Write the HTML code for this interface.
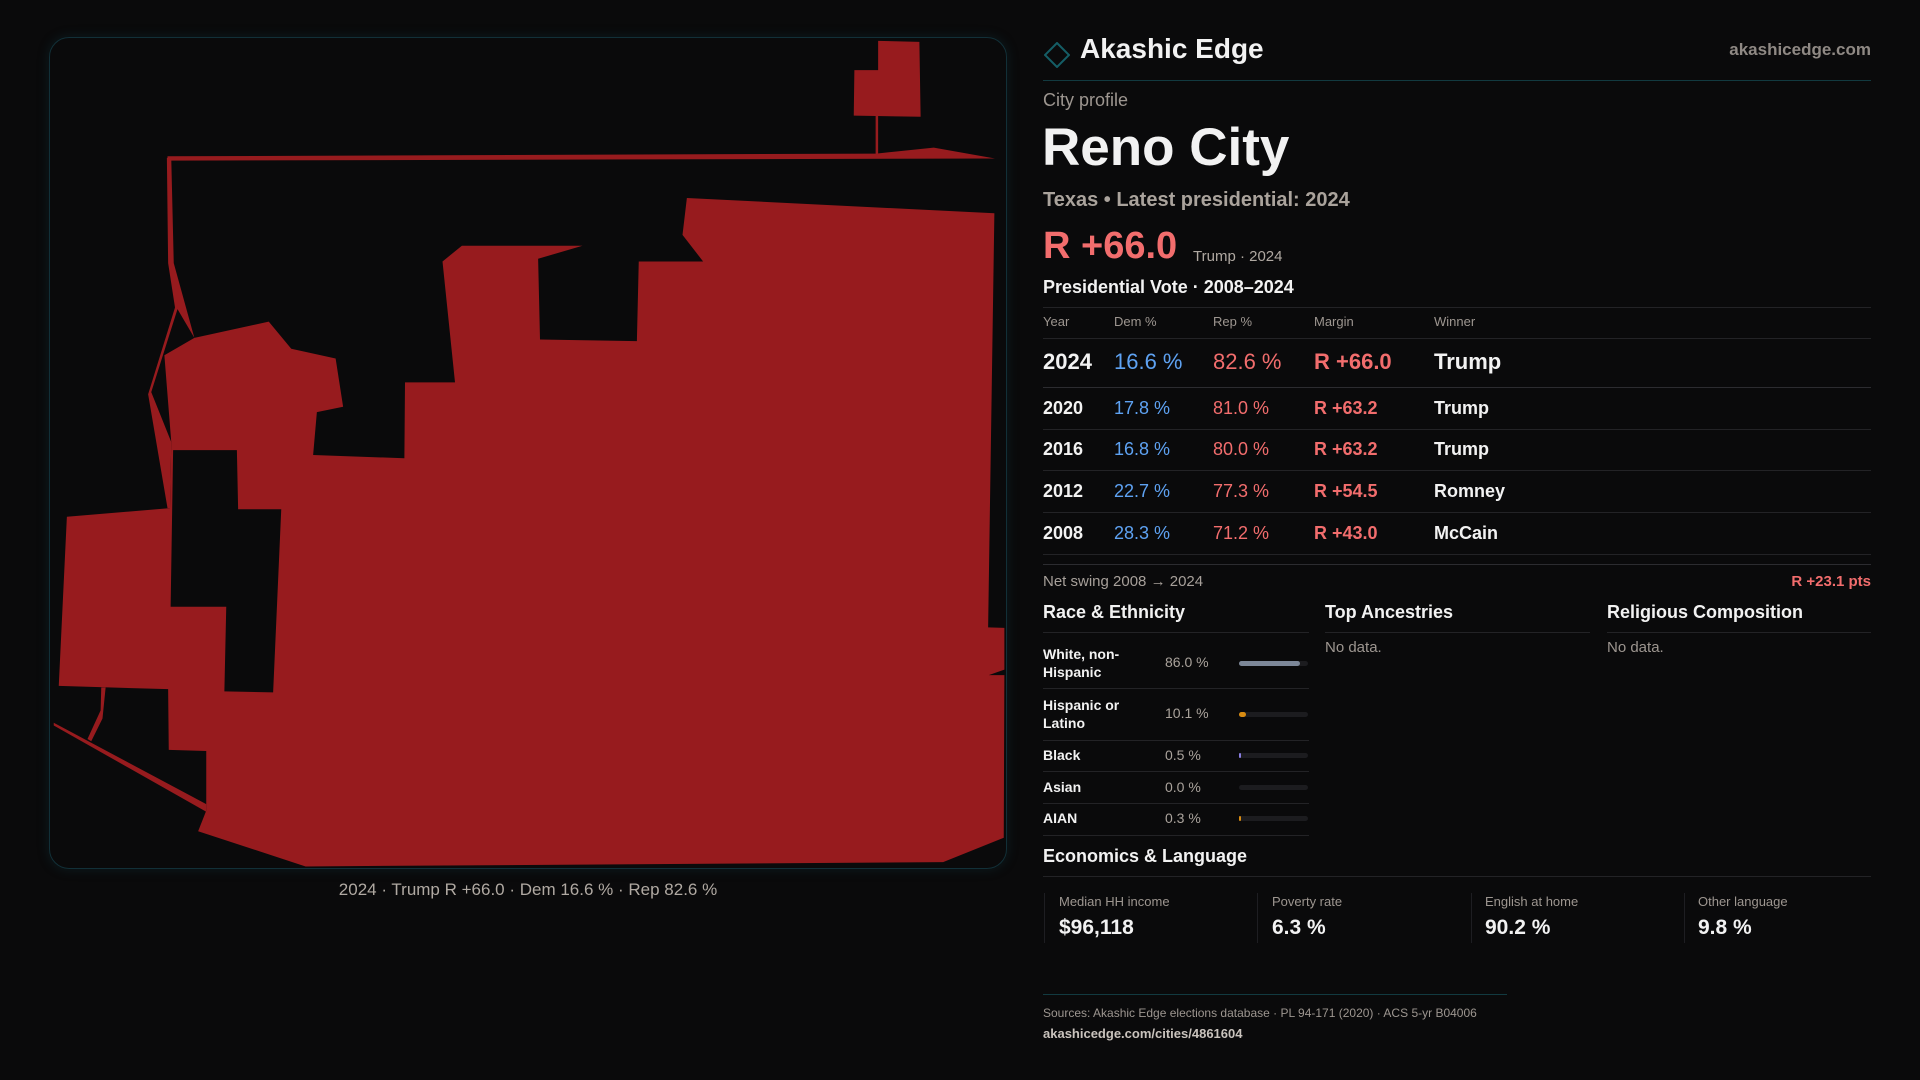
<!DOCTYPE html>
<html><head><meta charset="utf-8"><style>
*{margin:0;padding:0;box-sizing:border-box}
body{width:1920px;height:1080px;background:#0a0a0b;font-family:"Liberation Sans",sans-serif;color:#f2f2f2;position:relative;overflow:hidden}
.a{position:absolute;white-space:nowrap}
.g{color:#9d9690}
.r{color:#f26d6d}
.b{color:#5ea2f2}
.ln{position:absolute;height:1px;background:#232326}
.bar{position:absolute;left:1239px;width:69px;height:5px;border-radius:3px;background:#1c1c1f}
</style></head><body>
<div class="a" style="left:49px;top:37px;width:958px;height:832px;border:1px solid #123038;border-radius:20px;box-shadow:0 0 12px rgba(20,80,90,0.25)"></div>
<svg class="a" style="left:40px;top:30px" width="980" height="850" viewBox="0 0 1568 1568" preserveAspectRatio="none">
<g fill="#971b1e">
<polygon points="1035,310 1527,338 1517,1102 1543,1103 1543,1180 1518,1190 1543,1190 1542,1490 1445,1535 425,1543 253,1478 266,1440 266,1330 206,1328 205,1216 30,1210 43,898 208,882 210,760 199,600 247,568 366,538 402,588 473,606 485,695 443,705 437,784 583,790 584,650 664,650 644,427 675,398 868,398 797,422 800,571 955,574 958,427 1061,427 1028,378"/>
<polygon points="203,236 210,236 214,430 247,568 220,515 178,668 210,760 208,882 204,882 173,672 216,512 205,430"/>
<polygon points="204,233 1338,228 1430,217 1528,237 204,241"/>
<rect x="1337" y="158" width="4" height="72"/>
<polygon points="1341,20 1407,22 1409,160 1302,158 1303,74 1341,74"/>
<polygon points="22,1278 266,1428 266,1442 22,1283"/>
<polygon points="98,1213 105,1213 100,1270 82,1312 76,1308 97,1255"/>
</g>
<polygon fill="#0a0a0b" points="213,775 315,775 317,884 386,884 373,1222 295,1220 298,1064 209,1064"/>
</svg>
<div class="a g" style="left:0;width:1056px;text-align:center;top:880px;font-size:17px;color:#b0a9a2">2024 · Trump R +66.0 · Dem 16.6 % · Rep 82.6 %</div>

<svg class="a" style="left:1044px;top:42px" width="26" height="26"><polygon points="13,1 25,13 13,25 1,13" fill="none" stroke="#155e66" stroke-width="2"/></svg>
<div class="a" style="left:1080px;top:33px;font-size:28px;font-weight:bold">Akashic Edge</div>
<div class="a g" style="right:49px;top:40px;font-size:17px;font-weight:bold;color:#8f8984">akashicedge.com</div>
<div class="ln" style="left:1043px;width:828px;top:80px;background:#123a40"></div>
<div class="a g" style="left:1043px;top:90px;font-size:18px">City profile</div>
<div class="a" style="left:1042px;top:117px;font-size:53px;font-weight:bold">Reno City</div>
<div class="a" style="left:1043px;top:189px;font-size:20px;font-weight:bold;color:#aaa39c">Texas • Latest presidential: 2024</div>
<div class="a r" style="left:1043px;top:225px;font-size:38px;font-weight:bold">R +66.0</div>
<div class="a" style="left:1193px;top:248px;font-size:15px;color:#b0a9a2">Trump · 2024</div>
<div class="a" style="left:1043px;top:277px;font-size:18px;font-weight:bold">Presidential Vote · 2008–2024</div>
<div class="ln" style="left:1043px;width:828px;top:307px"></div>
<div class="a g" style="left:1043px;top:314px;font-size:13px">Year</div>
<div class="a g" style="left:1114px;top:314px;font-size:13px">Dem %</div>
<div class="a g" style="left:1213px;top:314px;font-size:13px">Rep %</div>
<div class="a g" style="left:1314px;top:314px;font-size:13px">Margin</div>
<div class="a g" style="left:1434px;top:314px;font-size:13px">Winner</div>
<div class="ln" style="left:1043px;width:828px;top:338px"></div>
<div class="a" style="left:1043px;top:349px;font-size:22px;font-weight:bold">2024</div>
<div class="a b" style="left:1114px;top:349px;font-size:22px">16.6 %</div>
<div class="a r" style="left:1213px;top:349px;font-size:22px">82.6 %</div>
<div class="a r" style="left:1314px;top:349px;font-size:22px;font-weight:bold">R +66.0</div>
<div class="a" style="left:1434px;top:349px;font-size:22px;font-weight:bold">Trump</div>
<div class="ln" style="left:1043px;width:828px;top:387px;background:#2c2c30"></div>
<div class="a" style="left:1043px;top:398px;font-size:18px;font-weight:bold">2020</div><div class="a b" style="left:1114px;top:398px;font-size:18px">17.8 %</div><div class="a r" style="left:1213px;top:398px;font-size:18px">81.0 %</div><div class="a r" style="left:1314px;top:398px;font-size:18px;font-weight:bold">R +63.2</div><div class="a" style="left:1434px;top:398px;font-size:18px;font-weight:bold">Trump</div>
<div class="ln" style="left:1043px;width:828px;top:429px"></div>
<div class="a" style="left:1043px;top:439px;font-size:18px;font-weight:bold">2016</div><div class="a b" style="left:1114px;top:439px;font-size:18px">16.8 %</div><div class="a r" style="left:1213px;top:439px;font-size:18px">80.0 %</div><div class="a r" style="left:1314px;top:439px;font-size:18px;font-weight:bold">R +63.2</div><div class="a" style="left:1434px;top:439px;font-size:18px;font-weight:bold">Trump</div>
<div class="ln" style="left:1043px;width:828px;top:470px"></div>
<div class="a" style="left:1043px;top:481px;font-size:18px;font-weight:bold">2012</div><div class="a b" style="left:1114px;top:481px;font-size:18px">22.7 %</div><div class="a r" style="left:1213px;top:481px;font-size:18px">77.3 %</div><div class="a r" style="left:1314px;top:481px;font-size:18px;font-weight:bold">R +54.5</div><div class="a" style="left:1434px;top:481px;font-size:18px;font-weight:bold">Romney</div>
<div class="ln" style="left:1043px;width:828px;top:512px"></div>
<div class="a" style="left:1043px;top:523px;font-size:18px;font-weight:bold">2008</div><div class="a b" style="left:1114px;top:523px;font-size:18px">28.3 %</div><div class="a r" style="left:1213px;top:523px;font-size:18px">71.2 %</div><div class="a r" style="left:1314px;top:523px;font-size:18px;font-weight:bold">R +43.0</div><div class="a" style="left:1434px;top:523px;font-size:18px;font-weight:bold">McCain</div>
<div class="ln" style="left:1043px;width:828px;top:554px"></div>
<div class="ln" style="left:1043px;width:828px;top:564px;background:#2c2c30"></div>
<div class="a" style="left:1043px;top:573px;font-size:15px;color:#a7a09a">Net swing 2008 → 2024</div>
<div class="a r" style="right:49px;top:573px;font-size:15px;font-weight:bold">R +23.1 pts</div>

<div class="a" style="left:1043px;top:602px;font-size:18px;font-weight:bold">Race &amp; Ethnicity</div>
<div class="a" style="left:1325px;top:602px;font-size:18px;font-weight:bold">Top Ancestries</div>
<div class="a" style="left:1607px;top:602px;font-size:18px;font-weight:bold">Religious Composition</div>
<div class="ln" style="left:1043px;width:266px;top:632px"></div>
<div class="ln" style="left:1325px;width:265px;top:632px"></div>
<div class="ln" style="left:1607px;width:264px;top:632px"></div>
<div class="a g" style="left:1325px;top:639px;font-size:15px">No data.</div>
<div class="a g" style="left:1607px;top:639px;font-size:15px">No data.</div>

<div class="a" style="left:1043px;top:645px;font-size:14px;font-weight:bold;line-height:18px">White, non-<br>Hispanic</div>
<div class="a" style="left:1165px;top:654px;font-size:14px;color:#aaa39c">86.0 %</div>
<div class="bar" style="top:661px"></div><div class="bar" style="top:661px;width:61px;background:#7c8798"></div>
<div class="ln" style="left:1043px;width:266px;top:688px"></div>
<div class="a" style="left:1043px;top:696px;font-size:14px;font-weight:bold;line-height:18px">Hispanic or<br>Latino</div>
<div class="a" style="left:1165px;top:705px;font-size:14px;color:#aaa39c">10.1 %</div>
<div class="bar" style="top:712px"></div><div class="bar" style="top:712px;width:7px;background:#d98c12"></div>
<div class="ln" style="left:1043px;width:266px;top:740px"></div>
<div class="a" style="left:1043px;top:747px;font-size:14px;font-weight:bold">Black</div>
<div class="a" style="left:1165px;top:747px;font-size:14px;color:#aaa39c">0.5 %</div>
<div class="bar" style="top:753px"></div><div class="bar" style="top:753px;width:2px;background:#8a7ee0"></div>
<div class="ln" style="left:1043px;width:266px;top:771px"></div>
<div class="a" style="left:1043px;top:779px;font-size:14px;font-weight:bold">Asian</div>
<div class="a" style="left:1165px;top:779px;font-size:14px;color:#aaa39c">0.0 %</div>
<div class="bar" style="top:785px"></div>
<div class="ln" style="left:1043px;width:266px;top:803px"></div>
<div class="a" style="left:1043px;top:810px;font-size:14px;font-weight:bold">AIAN</div>
<div class="a" style="left:1165px;top:810px;font-size:14px;color:#aaa39c">0.3 %</div>
<div class="bar" style="top:816px"></div><div class="bar" style="top:816px;width:2px;background:#d98c12"></div>
<div class="ln" style="left:1043px;width:266px;top:835px"></div>

<div class="a" style="left:1043px;top:846px;font-size:18px;font-weight:bold">Economics &amp; Language</div>
<div class="ln" style="left:1043px;width:828px;top:876px"></div>
<div class="a" style="left:1044px;top:893px;width:1px;height:50px;background:#1e1e22"></div>
<div class="a" style="left:1257px;top:893px;width:1px;height:50px;background:#1e1e22"></div>
<div class="a" style="left:1471px;top:893px;width:1px;height:50px;background:#1e1e22"></div>
<div class="a" style="left:1684px;top:893px;width:1px;height:50px;background:#1e1e22"></div>
<div class="a g" style="left:1059px;top:894px;font-size:13px">Median HH income</div>
<div class="a g" style="left:1272px;top:894px;font-size:13px">Poverty rate</div>
<div class="a g" style="left:1485px;top:894px;font-size:13px">English at home</div>
<div class="a g" style="left:1698px;top:894px;font-size:13px">Other language</div>
<div class="a" style="left:1059px;top:916px;font-size:21px;font-weight:bold">$96,118</div>
<div class="a" style="left:1272px;top:916px;font-size:21px;font-weight:bold">6.3 %</div>
<div class="a" style="left:1485px;top:916px;font-size:21px;font-weight:bold">90.2 %</div>
<div class="a" style="left:1698px;top:916px;font-size:21px;font-weight:bold">9.8 %</div>

<div class="ln" style="left:1043px;width:464px;top:994px;background:#123a40"></div>
<div class="a g" style="left:1043px;top:1006px;font-size:12px">Sources: Akashic Edge elections database · PL 94-171 (2020) · ACS 5-yr B04006</div>
<div class="a" style="left:1043px;top:1026px;font-size:13px;font-weight:bold;color:#c9c3bd">akashicedge.com/cities/4861604</div>
</body></html>
